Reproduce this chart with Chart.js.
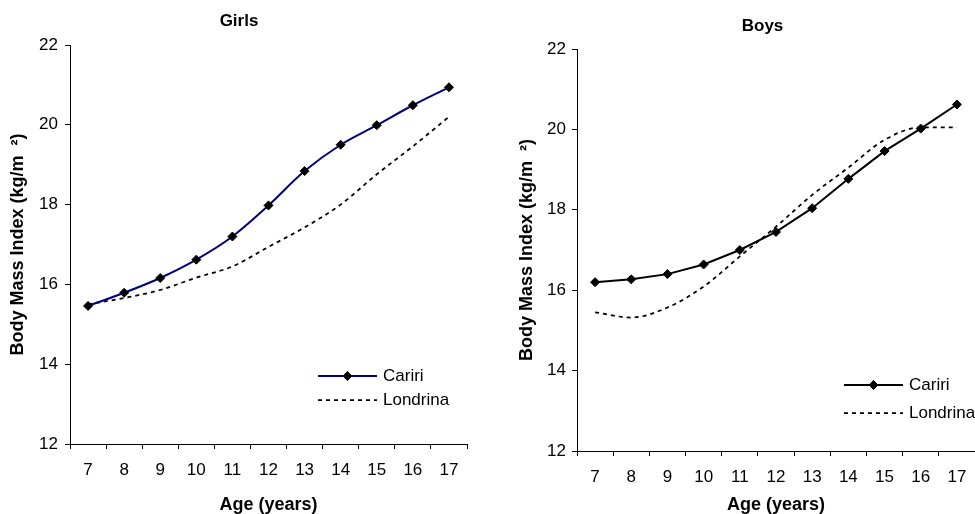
<!DOCTYPE html>
<html>
<head>
<meta charset="utf-8">
<title>Body Mass Index by age</title>
<script src="https://cdn.jsdelivr.net/npm/chart.js@4/dist/chart.umd.min.js"></script>
<style>
  html, body { margin: 0; padding: 0; background: #fff; overflow: hidden; }
  body { position: relative; width: 975px; height: 514px; }
  canvas { position: absolute; top: 0; }
  #girlsChart { left: 0; }
  #boysChart { left: 490px; }
</style>
</head>
<body>
<canvas id="girlsChart" width="478" height="516"></canvas>
<canvas id="boysChart" width="545" height="516"></canvas>
<script>
/// Age groups (years) along the x axis
const AGES = ["7", "8", "9", "10", "11", "12", "13", "14", "15", "16", "17"];

/// Mean BMI (kg/m²) per age – girls
const GIRLS_CARIRI   = [15.46, 15.79, 16.16, 16.62, 17.20, 17.98, 18.84, 19.50, 19.99, 20.49, 20.94];
const GIRLS_LONDRINA = [15.50, 15.66, 15.86, 16.17, 16.45, 16.94, 17.43, 18.00, 18.76, 19.46, 20.20];

/// Mean BMI (kg/m²) per age – boys
const BOYS_CARIRI    = [16.20, 16.27, 16.40, 16.64, 17.00, 17.45, 18.04, 18.77, 19.46, 20.02, 20.62];
const BOYS_LONDRINA  = [15.45, 15.32, 15.57, 16.09, 16.84, 17.58, 18.37, 19.05, 19.74, 20.05, 20.05];

/// Y axis range
const Y_MIN = 12;
const Y_MAX = 22;
const Y_STEP = 2;

Chart.defaults.font.family = '"Liberation Sans", Arial, Helvetica, sans-serif';
Chart.defaults.color = "#000";

// ── Key drawn as a line sample with its marker ──────────────────────

const keyPlugin = {
  id: "lineKey",
  afterDraw(chart, args, opts) {
    if (!opts || opts.x === undefined) return;
    const ctx = chart.ctx;
    chart.data.datasets.forEach((d, i) => {
      const y = opts.y + i * opts.gap;
      ctx.save();
      ctx.strokeStyle = d.borderColor;
      ctx.lineWidth = d.borderWidth;
      ctx.setLineDash(d.borderDash || []);
      ctx.beginPath();
      ctx.moveTo(opts.x, y);
      ctx.lineTo(opts.x + opts.len, y);
      ctx.stroke();
      ctx.setLineDash([]);
      if (d.pointRadius > 0) {
        ctx.fillStyle = d.pointBackgroundColor;
        ctx.strokeStyle = d.pointBorderColor;
        ctx.lineWidth = d.pointBorderWidth;
        Chart.helpers.drawPoint(ctx, { pointStyle: d.pointStyle, radius: d.pointRadius, borderWidth: d.pointBorderWidth }, opts.x + opts.len / 2, y);
      }
      ctx.fillStyle = "#000";
      ctx.font = opts.fontSize + "px " + Chart.defaults.font.family;
      ctx.textBaseline = "middle";
      ctx.textAlign = "left";
      ctx.fillText(d.label, opts.x + opts.len + 6, y + 0.5);
      ctx.restore();
    });
  }
};
Chart.register(keyPlugin);

// ── Dataset helpers ─────────────────────────────────────────────────

/// Solid series with black diamond markers.
function markedLine(label, data, color, tension) {
  return {
    label, data,
    borderColor: color, borderWidth: 2, tension,
    pointStyle: "rectRot", pointRadius: 4.5,
    pointBackgroundColor: "#000", pointBorderColor: "#000", pointBorderWidth: 1,
    yAxisID: "y"
  };
}

/// Dashed series without markers (monotone smoothing keeps flat runs flat).
function dashedLine(label, data) {
  return {
    label, data,
    borderColor: "#000", borderWidth: 1.75, borderDash: [4, 4],
    cubicInterpolationMode: "monotone",
    pointRadius: 0, yAxisID: "y"
  };
}

// ── Panel options ───────────────────────────────────────────────────

function panelOptions(p) {
  return {
    responsive: false,
    animation: false,
    layout: { padding: 0 },
    plugins: {
      legend: { display: false },
      tooltip: { enabled: false },
      title: {
        display: true, text: p.title, color: "#000",
        font: { size: 17, weight: "bold" },
        padding: { top: p.titleTop, bottom: p.titleBottom }
      },
      lineKey: { x: p.keyX, y: p.keyY, gap: p.keyGap, len: 59, fontSize: 17 }
    },
    scales: {
      x: {
        type: "category",
        offset: true,
        grid: { display: true, offset: true, drawOnChartArea: false, tickLength: 5, color: "#000" },
        border: { display: true, color: "#000", width: 1 },
        ticks: { padding: 11, font: { size: 17 }, color: "#000", maxRotation: 0, autoSkip: false },
        title: {
          display: true, text: "Age (years)", color: "#000",
          font: { size: 18, weight: "bold" }, padding: { top: 0, bottom: 0 }
        },
        afterFit(s) { s.height = p.xHeight; }
      },
      y: {
        min: Y_MIN, max: Y_MAX,
        grid: { display: true, drawOnChartArea: false, tickLength: 5, color: "#000" },
        border: { display: true, color: "#000", width: 1 },
        ticks: { stepSize: Y_STEP, padding: p.yTickPad, font: { size: 17 }, color: "#000" },
        title: {
          display: true, text: "Body Mass Index (kg/m  \u00B2)", color: "#000",
          font: { size: 18, weight: "bold" }, padding: { top: p.yTitlePad, bottom: 0 }
        },
        afterFit(s) { s.width = p.yWidth; }
      },
      // empty right-hand box so the plot ends short of the canvas edge
      edge: {
        type: "linear", position: "right", display: true,
        grid: { display: false }, border: { display: false }, ticks: { display: false },
        afterFit(s) { s.width = p.rightGap; }
      }
    }
  };
}

// ── Charts ──────────────────────────────────────────────────────────

new Chart(document.getElementById("girlsChart"), {
  type: "line",
  data: {
    labels: AGES,
    datasets: [
      markedLine("Cariri", GIRLS_CARIRI, "#000080", 0.35),
      dashedLine("Londrina", GIRLS_LONDRINA)
    ]
  },
  options: panelOptions({
    title: "Girls", titleTop: 11.5, titleBottom: 13.1,
    xHeight: 72, yWidth: 70, yTickPad: 7, yTitlePad: 7.7, rightGap: 11,
    keyX: 318, keyY: 376, keyGap: 24
  })
});

new Chart(document.getElementById("boysChart"), {
  type: "line",
  data: {
    labels: AGES,
    datasets: [
      markedLine("Cariri", BOYS_CARIRI, "#000", 0),
      dashedLine("Londrina", BOYS_LONDRINA)
    ]
  },
  options: panelOptions({
    title: "Boys", titleTop: 16, titleBottom: 12.6,
    xHeight: 65, yWidth: 87, yTickPad: 6, yTitlePad: 26, rightGap: 60,
    keyX: 354, keyY: 385, keyGap: 28
  })
});
</script>
</body>
</html>
